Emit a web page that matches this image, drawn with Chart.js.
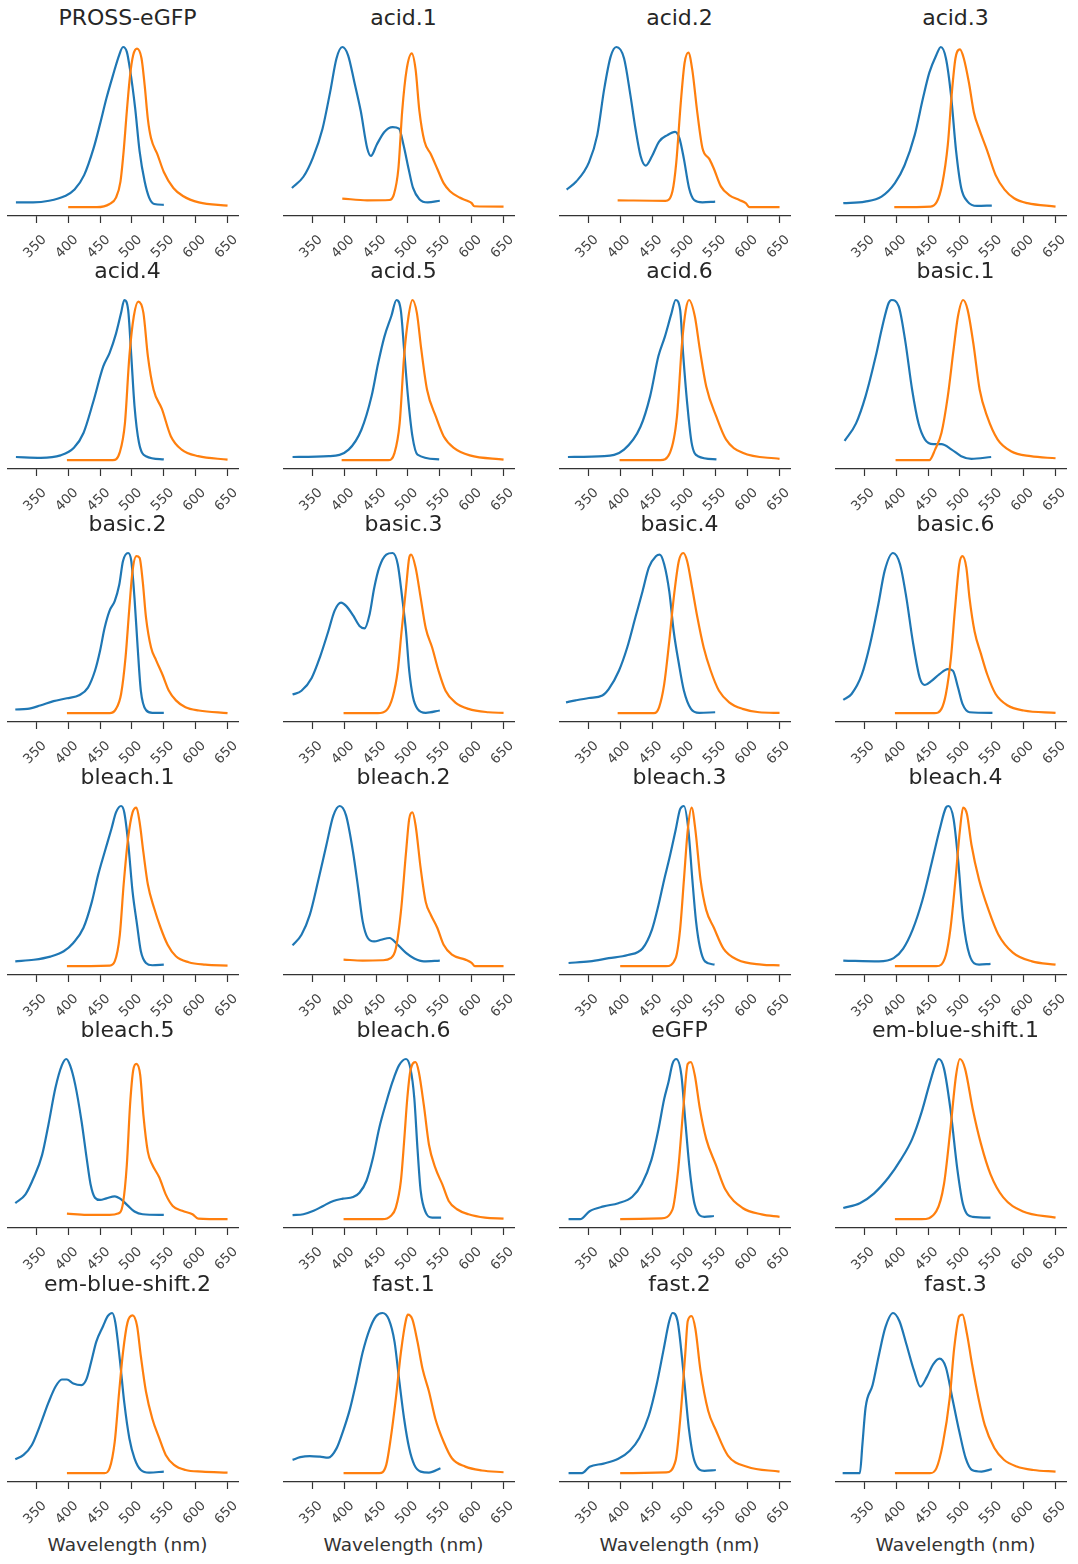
<!DOCTYPE html>
<html><head><meta charset="utf-8">
<script src="https://cdn.jsdelivr.net/npm/chart.js@4.4.0/dist/chart.umd.min.js"></script>
<style>
html,body{margin:0;padding:0;background:#fff;}
#fig{position:relative;width:1078px;height:1564px;overflow:hidden;background:#fff;}
.ttl{position:absolute;font-family:'DejaVu Sans';font-size:22px;color:#262626;text-align:center;white-space:nowrap;line-height:22px;height:22px;}
.xl{position:absolute;font-family:'DejaVu Sans';font-size:18.5px;color:#333;text-align:center;white-space:nowrap;line-height:19px;height:19px;}
canvas{position:absolute;}
</style></head><body><div id="fig"></div>
<script>
// ---- data: [wavelength (nm), normalized intensity] ----
const ex_PROSS_eGFP=[[318,.03],[345,.03],[370,.04],[395,.07],[410,.11],[425,.20],[440,.37],[450,.52],[460,.68],[470,.82],[480,.95],[486,1.0],[492,.97],[497,.86],[505,.62],[512,.35],[520,.16],[527,.06],[535,.02],[550,.015]];
const em_PROSS_eGFP=[[400,0],[445,0],[465,.02],[475,.06],[482,.16],[487,.35],[492,.60],[497,.82],[502,.95],[508,.99],[515,.93],[520,.76],[525,.55],[530,.43],[540,.33],[550,.22],[565,.12],[580,.07],[605,.03],[650,.01]];
const ex_acid_1=[[318,.12],[336,.19],[351,.31],[366,.49],[378,.72],[388,.93],[397,1.0],[406,.95],[416,.78],[426,.60],[436,.37],[442,.32],[451,.39],[463,.47],[476,.50],[486,.49],[493,.39],[501,.24],[508,.12],[518,.05],[531,.03],[550,.04]];
const em_acid_1=[[397,.054],[436,.043],[471,.045],[478,.08],[485,.24],[491,.60],[498,.86],[506,.96],[512,.86],[518,.60],[526,.41],[536,.33],[546,.24],[556,.15],[566,.10],[581,.06],[593,.04],[600,.025],[604,.006],[650,.004]];
const ex_acid_2=[[316,.11],[331,.16],[351,.28],[364,.45],[375,.74],[385,.94],[394,1.0],[406,.93],[416,.70],[424,.49],[432,.32],[440,.26],[450,.32],[461,.41],[474,.45],[486,.47],[493,.43],[500,.30],[508,.12],[516,.045],[529,.03],[549,.035]];
const em_acid_2=[[396,.043],[471,.04],[482,.1],[488,.28],[495,.65],[501,.9],[507,.965],[513,.86],[521,.59],[529,.37],[540,.30],[547,.24],[558,.13],[571,.076],[587,.045],[597,.025],[603,0],[650,0]];
const ex_acid_3=[[317,.025],[351,.035],[377,.066],[398,.15],[413,.26],[429,.45],[442,.68],[452,.84],[463,.95],[470,1.0],[478,.93],[486,.70],[494,.35],[502,.12],[512,.035],[527,.008],[550,.01]];
const em_acid_3=[[397,0],[454,.004],[464,.035],[472,.14],[481,.39],[487,.70],[493,.93],[500,.985],[506,.93],[514,.78],[522,.59],[530,.49],[543,.35],[556,.20],[570,.11],[585,.056],[606,.025],[650,.004]];
const ex_acid_4=[[318,.02],[357,.015],[388,.03],[409,.077],[424,.17],[439,.36],[455,.585],[465,.67],[475,.79],[483,.92],[488,1.0],[494,.94],[499,.65],[504,.34],[511,.11],[522,.025],[550,.005]];
const em_acid_4=[[398,0],[470,0],[481,.05],[489,.23],[496,.65],[503,.9],[510,.99],[518,.92],[525,.65],[534,.44],[547,.32],[561,.15],[578,.066],[604,.025],[650,.004]];
const ex_acid_5=[[319,.02],[376,.025],[407,.066],[427,.19],[443,.40],[453,.6],[463,.77],[474,.9],[482,1.0],[489,.93],[494,.69],[500,.40],[507,.15],[515,.035],[549,.005]];
const em_acid_5=[[396,0],[469,0],[479,.046],[487,.23],[494,.65],[501,.9],[507,1.0],[514,.92],[521,.69],[530,.44],[544,.27],[556,.15],[572,.077],[597,.03],[650,.004]];
const ex_acid_6=[[318,.02],[375,.025],[406,.066],[432,.21],[447,.40],[460,.65],[470,.77],[480,.91],[487,1.0],[494,.94],[499,.65],[505,.36],[512,.11],[522,.025],[551,.005]];
const em_acid_6=[[399,0],[463,0],[478,.046],[489,.27],[497,.73],[503,.94],[508,1.0],[517,.9],[525,.69],[535,.46],[551,.27],[566,.13],[592,.046],[650,.008]];
const ex_basic_1=[[319,.12],[337,.23],[352,.40],[368,.65],[378,.83],[388,.98],[393,1.0],[404,.96],[414,.75],[425,.44],[435,.23],[445,.13],[458,.10],[471,.10],[487,.066],[502,.025],[518,.008],[549,.02]];
const em_basic_1=[[399,0],[452,0],[461,.066],[471,.17],[481,.40],[490,.69],[497,.9],[505,1.0],[512,.94],[521,.73],[531,.44],[543,.27],[559,.13],[580,.056],[611,.025],[650,.012]];
const ex_basic_2=[[317,.023],[336,.027],[356,.048],[377,.075],[398,.093],[418,.114],[431,.16],[442,.265],[450,.39],[457,.53],[465,.64],[473,.70],[480,.80],[486,.95],[494,1.0],[499,.95],[504,.72],[509,.41],[514,.14],[522,.02],[532,.002],[550,.002]];
const em_basic_2=[[398,0],[465,0],[475,.027],[483,.12],[490,.35],[496,.66],[501,.89],[507,.98],[512,.97],[517,.82],[522,.60],[530,.41],[538,.33],[548,.24],[558,.14],[569,.08],[584,.037],[605,.017],[650,0]];
const ex_basic_3=[[319,.116],[333,.14],[349,.22],[362,.35],[375,.51],[385,.64],[395,.69],[403,.67],[414,.61],[424,.545],[432,.53],[440,.62],[447,.78],[455,.91],[466,.99],[476,1.0],[484,.93],[491,.72],[497,.51],[502,.265],[508,.1],[515,.027],[528,.002],[550,.017]];
const em_basic_3=[[399,0],[453,0],[466,.017],[476,.1],[484,.265],[490,.51],[497,.78],[502,.97],[505,.99],[512,.91],[520,.72],[528,.53],[538,.41],[548,.265],[559,.14],[574,.068],[595,.027],[626,.006],[650,.002]];
const ex_basic_4=[[315,.068],[330,.08],[351,.095],[372,.11],[382,.15],[398,.265],[411,.41],[424,.60],[435,.76],[445,.91],[456,.98],[462,.99],[469,.93],[477,.76],[484,.51],[492,.31],[500,.14],[511,.027],[524,.002],[549,.006]];
const em_basic_4=[[396,0],[453,0],[461,.037],[469,.18],[477,.45],[484,.72],[492,.95],[499,1.0],[505,.95],[513,.78],[521,.60],[531,.41],[542,.265],[555,.14],[571,.068],[592,.027],[618,.006],[650,.002]];
const ex_basic_6=[[317,.083],[330,.12],[346,.24],[359,.43],[372,.68],[382,.89],[395,1.0],[406,.93],[416,.72],[426,.45],[437,.22],[445,.176],[455,.20],[468,.244],[481,.275],[489,.265],[497,.16],[504,.058],[515,.006],[551,.002]];
const em_basic_6=[[398,0],[460,0],[471,.027],[478,.12],[486,.35],[492,.64],[499,.93],[504,.98],[510,.91],[515,.72],[523,.51],[533,.37],[543,.24],[556,.12],[575,.048],[600,.017],[650,.002]];
const ex_bleach_1=[[317,.03],[346,.04],[372,.06],[393,.093],[408,.145],[424,.24],[437,.40],[447,.57],[457,.71],[468,.86],[475,.96],[483,1.0],[488,.96],[494,.775],[501,.465],[508,.26],[514,.093],[522,.02],[532,.006],[550,.01]];
const em_bleach_1=[[398,0],[465,.004],[473,.03],[481,.196],[487,.51],[494,.80],[501,.96],[507,.99],[512,.90],[518,.71],[525,.51],[535,.36],[545,.24],[556,.134],[569,.062],[589,.025],[615,.01],[650,.004]];
const ex_bleach_2=[[319,.13],[333,.196],[346,.32],[359,.53],[372,.755],[383,.94],[393,1.0],[403,.94],[414,.71],[422,.485],[429,.28],[437,.176],[447,.155],[458,.165],[471,.176],[484,.134],[497,.083],[510,.048],[525,.03],[550,.035]];
const em_bleach_2=[[399,.041],[429,.035],[460,.037],[473,.05],[481,.11],[489,.34],[497,.71],[502,.92],[507,.96],[512,.88],[520,.61],[528,.40],[536,.32],[546,.24],[556,.134],[569,.072],[590,.041],[600,.02],[605,0],[650,0]];
const ex_bleach_3=[[319,.02],[352,.03],[382,.05],[412,.07],[435,.11],[450,.23],[460,.38],[469,.54],[477,.67],[487,.85],[494,.98],[500,1.0],[507,.85],[513,.55],[519,.28],[525,.12],[533,.03],[548,.01]];
const em_bleach_3=[[400,0],[472,0],[487,.05],[494,.23],[500,.54],[506,.85],[512,.99],[518,.85],[526,.54],[535,.35],[547,.24],[562,.11],[584,.04],[622,.01],[650,.005]];
const ex_bleach_4=[[317,.035],[373,.03],[396,.05],[411,.11],[426,.23],[441,.41],[456,.65],[468,.85],[478,.99],[482,1.0],[490,.92],[497,.67],[505,.29],[515,.07],[530,.01],[548,.015]];
const em_bleach_4=[[398,0],[463,0],[478,.07],[485,.23],[493,.54],[500,.85],[505,.99],[511,.95],[518,.76],[530,.54],[545,.35],[560,.2],[583,.085],[613,.03],[650,.01]];
const ex_bleach_5=[[317,.10],[333,.155],[346,.26],[359,.40],[369,.59],[380,.82],[390,.96],[397,1.0],[403,.96],[411,.84],[421,.61],[429,.38],[435,.22],[442,.134],[450,.12],[460,.13],[473,.143],[483,.124],[494,.083],[504,.048],[517,.031],[550,.027]];
const em_bleach_5=[[398,.035],[429,.027],[465,.027],[478,.035],[486,.10],[492,.34],[497,.71],[502,.93],[507,.97],[513,.90],[518,.65],[525,.42],[532,.34],[543,.26],[553,.155],[564,.083],[579,.052],[595,.031],[604,.004],[650,0]];
const ex_bleach_6=[[319,.025],[336,.031],[352,.052],[367,.083],[383,.114],[398,.128],[414,.138],[424,.165],[435,.24],[445,.38],[455,.57],[466,.73],[476,.86],[486,.96],[497,1.0],[504,.94],[510,.755],[515,.44],[520,.176],[528,.041],[538,.01],[552,.01]];
const em_bleach_6=[[399,0],[460,0],[473,.02],[481,.072],[489,.24],[494,.485],[499,.755],[504,.93],[512,.98],[517,.92],[525,.71],[533,.465],[543,.32],[554,.217],[564,.114],[577,.062],[595,.031],[621,.01],[650,.004]];
const ex_eGFP=[[319,0],[337,0],[352,.05],[374,.08],[397,.10],[419,.14],[434,.22],[449,.37],[460,.56],[469,.75],[476,.86],[482,.97],[488,1.0],[496,.9],[502,.62],[509,.31],[517,.09],[532,.015],[547,.02]];
const em_eGFP=[[400,0],[464,.005],[482,.06],[491,.31],[499,.69],[506,.97],[511,.98],[517,.9],[525,.69],[535,.5],[550,.34],[565,.185],[592,.07],[622,.03],[650,.015]];
const ex_em_blue_shift_1=[[317,.07],[343,.1],[365,.16],[388,.26],[407,.37],[425,.5],[440,.67],[452,.84],[463,.98],[467,1.0],[475,.94],[485,.69],[496,.31],[505,.09],[520,.015],[548,.01]];
const em_em_blue_shift_1=[[398,0],[440,0],[463,.05],[475,.22],[485,.56],[494,.9],[500,1.0],[508,.94],[520,.69],[533,.47],[548,.28],[568,.136],[598,.05],[650,.01]];
const ex_em_blue_shift_2=[[317,.087],[330,.114],[343,.176],[356,.30],[369,.44],[380,.54],[390,.585],[398,.585],[408,.56],[421,.55],[429,.59],[437,.71],[444,.82],[455,.92],[462,.98],[469,1.0],[474,.94],[481,.71],[488,.44],[496,.217],[504,.093],[514,.02],[527,.004],[550,.01]];
const em_em_blue_shift_2=[[398,0],[457,0],[465,.031],[473,.196],[480,.51],[486,.755],[493,.94],[501,.985],[508,.92],[514,.73],[522,.51],[532,.34],[543,.217],[553,.114],[566,.052],[584,.02],[610,.01],[650,.004]];
const ex_fast_1=[[319,.083],[331,.1],[346,.107],[362,.103],[375,.097],[388,.155],[398,.26],[409,.40],[419,.57],[429,.755],[440,.90],[450,.98],[460,1.0],[470,.96],[479,.82],[486,.59],[494,.34],[502,.155],[510,.052],[520,.01],[533,.004],[551,.031]];
const em_fast_1=[[399,0],[455,0],[466,.052],[473,.217],[481,.465],[489,.755],[497,.96],[500,.99],[507,.96],[515,.82],[523,.65],[533,.51],[543,.34],[556,.196],[569,.093],[590,.041],[616,.017],[650,.006]];
const ex_fast_2=[[319,0],[340,0],[352,.04],[374,.06],[397,.09],[415,.14],[430,.22],[445,.36],[457,.55],[468,.77],[477,.95],[482,1.0],[490,.95],[499,.64],[508,.27],[517,.07],[532,.015],[550,.02]];
const em_fast_2=[[400,0],[472,.005],[487,.08],[494,.33],[502,.74],[506,.95],[512,.98],[518,.9],[526,.64],[538,.39],[550,.27],[569,.11],[599,.04],[650,.01]];
const ex_fast_3=[[316,0],[343,0],[347,.18],[352,.41],[363,.55],[373,.74],[383,.91],[395,1.0],[405,.95],[416,.805],[428,.64],[438,.54],[448,.6],[458,.68],[468,.715],[478,.66],[488,.47],[499,.26],[509,.094],[519,.02],[534,.01],[550,.025]];
const em_fast_3=[[398,0],[453,0],[463,.03],[473,.18],[484,.47],[491,.78],[499,.98],[504,.99],[511,.87],[519,.68],[529,.47],[539,.30],[554,.157],[569,.084],[589,.042],[615,.02],[650,.01]];

const panelTitles=['PROSS-eGFP','acid.1','acid.2','acid.3','acid.4','acid.5','acid.6','basic.1','basic.2','basic.3','basic.4','basic.6','bleach.1','bleach.2','bleach.3','bleach.4','bleach.5','bleach.6','eGFP','em-blue-shift.1','em-blue-shift.2','fast.1','fast.2','fast.3'];
const excitationSeries=[ex_PROSS_eGFP,ex_acid_1,ex_acid_2,ex_acid_3,ex_acid_4,ex_acid_5,ex_acid_6,ex_basic_1,ex_basic_2,ex_basic_3,ex_basic_4,ex_basic_6,ex_bleach_1,ex_bleach_2,ex_bleach_3,ex_bleach_4,ex_bleach_5,ex_bleach_6,ex_eGFP,ex_em_blue_shift_1,ex_em_blue_shift_2,ex_fast_1,ex_fast_2,ex_fast_3];
const emissionSeries=[em_PROSS_eGFP,em_acid_1,em_acid_2,em_acid_3,em_acid_4,em_acid_5,em_acid_6,em_basic_1,em_basic_2,em_basic_3,em_basic_4,em_basic_6,em_bleach_1,em_bleach_2,em_bleach_3,em_bleach_4,em_bleach_5,em_bleach_6,em_eGFP,em_em_blue_shift_1,em_em_blue_shift_2,em_fast_1,em_fast_2,em_fast_3];
const tickValues=[350,400,450,500,550,600,650];
const xAxisTitle='Wavelength (nm)';

// ---- layout ----
const fig=document.getElementById('fig');
const COLS=4, ROWS=6, colStep=276, rowStep=253.1, plotLeft0=7, plotW=241, axisY0=216, plotH=177, axisH=45;

panelTitles.forEach((t,i)=>{
  const r=Math.floor(i/COLS), c=i%COLS;
  const left=plotLeft0+c*colStep;
  const axisY=axisY0+r*rowStep;
  const top=Math.round(axisY-plotH);
  const cv=document.createElement('canvas');
  cv.width=plotW; cv.height=plotH+axisH;
  cv.style.left=left+'px'; cv.style.top=top+'px';
  fig.appendChild(cv);
  const title=document.createElement('div');
  title.className='ttl'; title.textContent=t;
  title.style.left=(left-20)+'px'; title.style.width=(plotW+40)+'px';
  title.style.top=Math.round(axisY-209)+'px';
  fig.appendChild(title);
  if(r===ROWS-1){
    const xl=document.createElement('div');
    xl.className='xl'; xl.textContent=xAxisTitle;
    xl.style.left=left+'px'; xl.style.width=plotW+'px';
    xl.style.top=Math.round(axisY+53)+'px';
    fig.appendChild(xl);
  }
  new Chart(cv,{
    type:'line',
    data:{datasets:[
      {data:excitationSeries[i],borderColor:'#1f77b4',borderWidth:2.2,pointRadius:0,cubicInterpolationMode:'monotone',fill:false,order:1},
      {data:emissionSeries[i],borderColor:'#ff7f0e',borderWidth:2.2,pointRadius:0,cubicInterpolationMode:'monotone',fill:false,order:0}
    ]},
    options:{
      responsive:false,animation:false,devicePixelRatio:1,
      layout:{padding:0,autoPadding:false},
      plugins:{legend:{display:false},tooltip:{enabled:false},title:{display:false}},
      scales:{
        x:{type:'linear',min:304,max:667,
          afterBuildTicks:(s)=>{s.ticks=tickValues.map(v=>({value:v}));},
          afterFit:(s)=>{s.height=axisH;},
          grid:{display:true,drawOnChartArea:false,drawTicks:true,tickLength:7,tickColor:'#333',tickWidth:1.2},
          border:{display:true,color:'#333',width:1.2},
          ticks:{minRotation:45,maxRotation:45,autoSkip:false,padding:9,labelOffset:8,color:'#444',
            font:{family:'DejaVu Sans',size:13.5},callback:(v)=>String(v)}
        },
        y:{display:false,min:-0.055,max:1.05}
      }
    }
  });
});
</script>
</body></html>
